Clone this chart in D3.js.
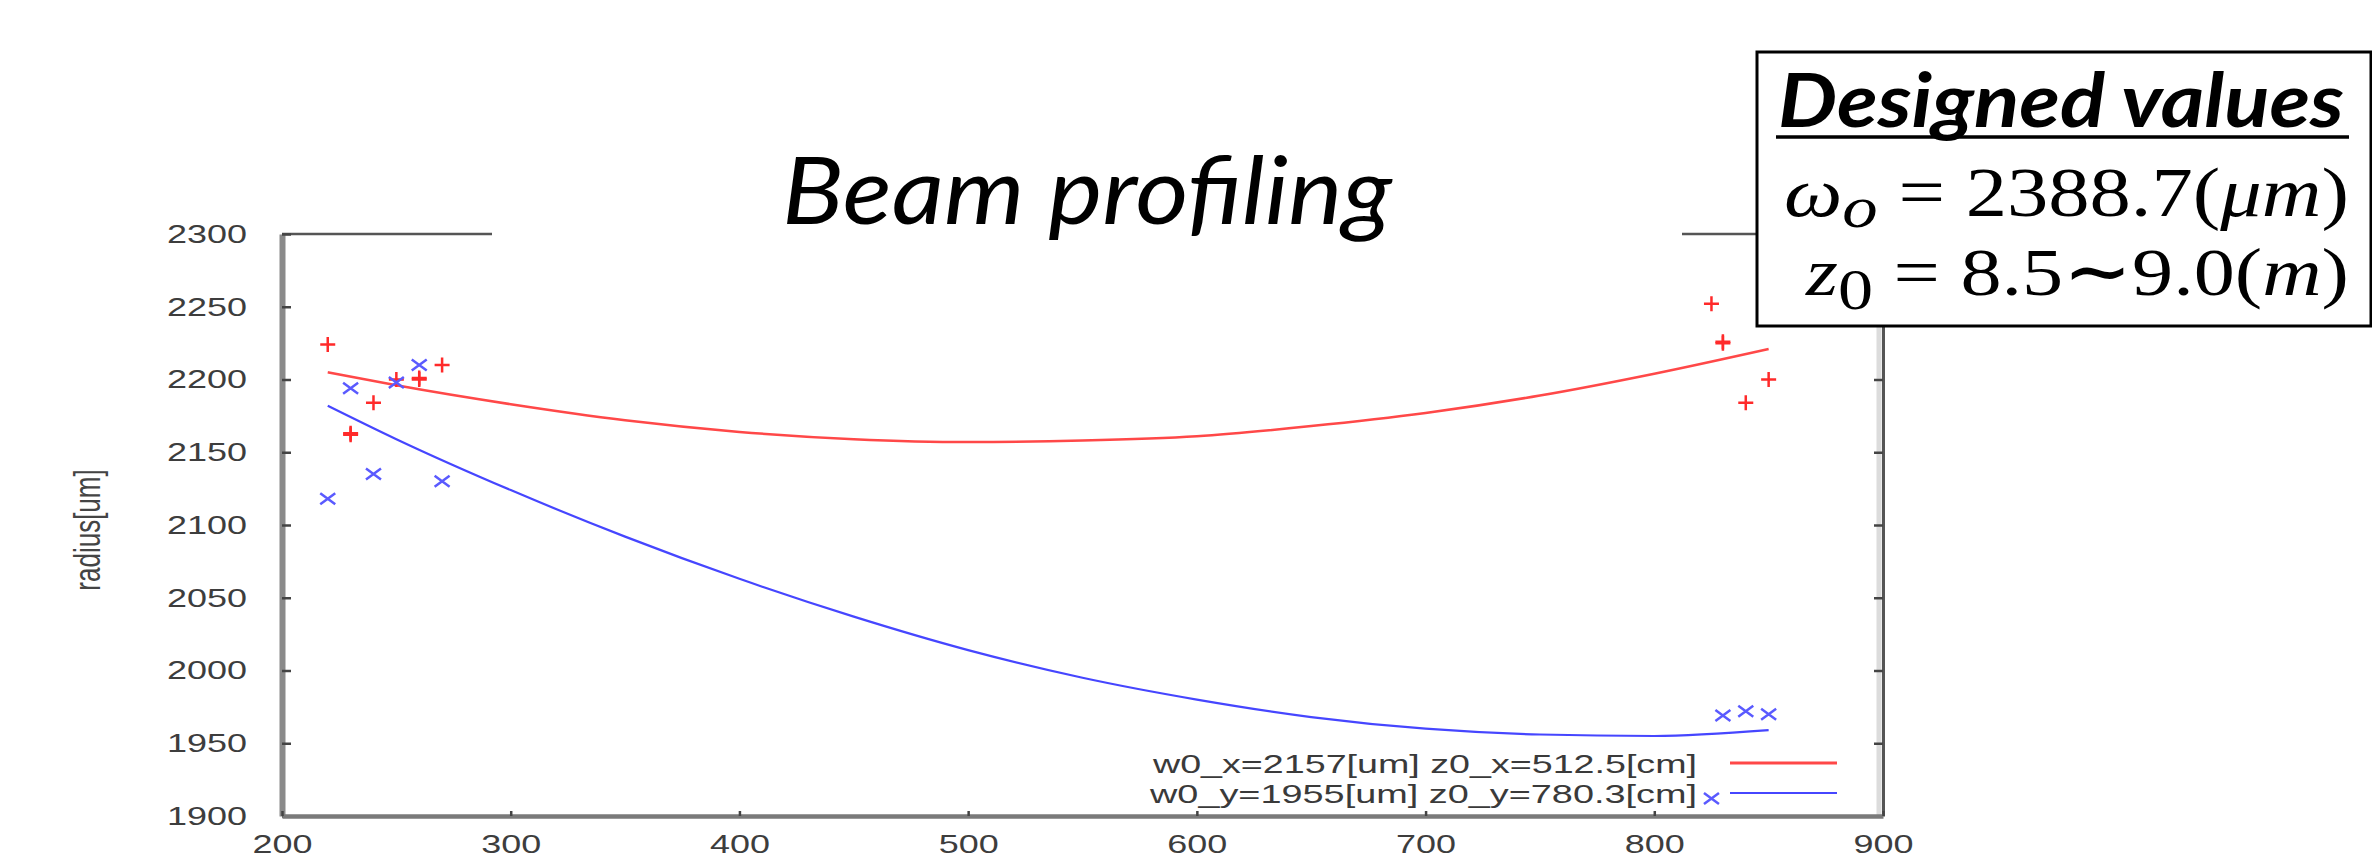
<!DOCTYPE html>
<html>
<head>
<meta charset="utf-8">
<script src="https://cdn.jsdelivr.net/npm/d3@7"></script>
<style>
  html, body { margin: 0; padding: 0; background: #fff; }
  svg { display: block; }
</style>
</head>
<body>
<svg id="chart"></svg>
<script>
const width = 2372;
const height = 864;

// measured points (z in cm, radius in um)
const redZ = [220, 230, 230, 240, 250, 260, 260, 270, 825, 830, 830, 840, 850];
const redR = [2224, 2162, 2163, 2184, 2200, 2200, 2201, 2210, 2252, 2226, 2225, 2184, 2200];
const blueZ = [220, 230, 240, 250, 260, 270, 825, 830, 840, 850];
const blueR = [2118, 2194, 2135, 2198, 2210, 2130, 1912, 1969, 1972, 1970];

// fitted curves
const fitZ = [220, 250, 300, 350, 400, 450, 500, 550, 600, 650, 700, 750, 800, 850];
const redFit = [2205, 2196, 2183, 2172, 2164, 2159, 2157, 2158, 2161, 2168, 2177, 2189, 2204, 2221];
const blueFit = [2182, 2159, 2124, 2092, 2063, 2037, 2014, 1995, 1980, 1968, 1960, 1956, 1955, 1959];

const xTicks = [200, 300, 400, 500, 600, 700, 800, 900];
const yTicks = [1900, 1950, 2000, 2050, 2100, 2150, 2200, 2250, 2300];

const legendLabels = ["w0_x=2157[um] z0_x=512.5[cm]", "w0_y=1955[um] z0_y=780.3[cm]"];

const svg = d3.select("#chart").attr("width", width).attr("height", height);

const x = d3.scaleLinear().domain([200, 900]).range([282, 1883]);
const y = d3.scaleLinear().domain([1900, 2300]).range([816, 234]);

// frame: top and right
svg.append("line")
  .attr("x1", x(200)).attr("x2", x(900)).attr("y1", y(2300)).attr("y2", y(2300))
  .attr("stroke", "#555").attr("stroke-width", 2.7);

// soft shade left of the right border
svg.append("line")
  .attr("x1", x(900) - 4).attr("x2", x(900) - 4).attr("y1", y(2300)).attr("y2", y(1900))
  .attr("stroke", "#dcdcdc").attr("stroke-width", 5);

const right = svg.append("g")
  .attr("transform", `translate(${x(900)},0)`)
  .call(d3.axisRight(y).tickValues(yTicks).tickSizeInner(-9).tickSizeOuter(0).tickFormat(""));
right.select(".domain").attr("stroke", "#555").attr("stroke-width", 3);
right.selectAll(".tick line").attr("stroke", "#444").attr("stroke-width", 2.5);

// left axis
const left = svg.append("g")
  .attr("transform", `translate(${x(200)},0)`)
  .call(d3.axisLeft(y).tickValues(yTicks).tickFormat(d3.format("d"))
    .tickSizeInner(-9).tickSizeOuter(0).tickPadding(35));
left.select(".domain").attr("stroke", "#8a8a8a").attr("stroke-width", 6);
left.selectAll(".tick line").attr("stroke", "#444").attr("stroke-width", 2.5);
left.selectAll(".tick text")
  .attr("font-family", "Liberation Sans, Arial, sans-serif")
  .attr("font-size", 26)
  .attr("fill", "#3d3d3d")
  .attr("textLength", 80)
  .attr("lengthAdjust", "spacingAndGlyphs");

// bottom axis
const bottom = svg.append("g")
  .attr("transform", `translate(0,${y(1900)})`)
  .call(d3.axisBottom(x).tickValues(xTicks).tickFormat(d3.format("d"))
    .tickSizeInner(-5).tickSizeOuter(0).tickPadding(19));
bottom.select(".domain").attr("stroke", "#7a7a7a").attr("stroke-width", 4.5);
bottom.selectAll(".tick line").attr("stroke", "#444").attr("stroke-width", 2.5);
bottom.selectAll(".tick text")
  .attr("font-family", "Liberation Sans, Arial, sans-serif")
  .attr("font-size", 26)
  .attr("fill", "#3d3d3d")
  .attr("textLength", 60)
  .attr("lengthAdjust", "spacingAndGlyphs");

// y axis title (glyphs stretched like the rest of the plot)
svg.append("text")
  .attr("transform", "translate(100,530) scale(1.4,1) rotate(-90)")
  .attr("text-anchor", "middle")
  .attr("font-family", "Liberation Sans, Arial, sans-serif")
  .attr("font-size", 26)
  .attr("fill", "#444")
  .text("radius[um]");

// fitted curves
const line = d3.line().x(d => x(d[0])).y(d => y(d[1])).curve(d3.curveMonotoneX);
svg.append("path")
  .attr("d", line(fitZ.map((z, i) => [z, redFit[i]])))
  .attr("fill", "none").attr("stroke", "#ff4848").attr("stroke-width", 2.5);
svg.append("path")
  .attr("d", line(fitZ.map((z, i) => [z, blueFit[i]])))
  .attr("fill", "none").attr("stroke", "#4646ff").attr("stroke-width", 2.2);

// markers
const plus = "M-7.5,0H7.5M0,-7.5V7.5";
const cross = "M-7.5,-5.5L7.5,5.5M-7.5,5.5L7.5,-5.5";

svg.append("g").selectAll("path")
  .data(redZ.map((z, i) => [z, redR[i]]))
  .join("path")
  .attr("transform", d => `translate(${x(d[0])},${y(d[1])})`)
  .attr("d", plus)
  .attr("stroke", "#ff2a2a").attr("stroke-width", 2.5).attr("fill", "none");

svg.append("g").selectAll("path")
  .data(blueZ.map((z, i) => [z, blueR[i]]))
  .join("path")
  .attr("transform", d => `translate(${x(d[0])},${y(d[1])})`)
  .attr("d", cross)
  .attr("stroke", "#5a5aff").attr("stroke-width", 2.5).attr("fill", "none");

// legend
const legendColors = ["#ff4848", "#4646ff"];
const legendY = [764, 794];
const legendLen = [544, 547];
const legendX = [1153, 1150];
legendLabels.forEach((label, i) => {
  svg.append("text")
    .attr("x", legendX[i]).attr("y", legendY[i])
    .attr("dominant-baseline", "central")
    .attr("font-family", "Liberation Sans, Arial, sans-serif")
    .attr("font-size", 25)
    .attr("fill", "#3a3a3a")
    .attr("textLength", legendLen[i])
    .attr("lengthAdjust", "spacingAndGlyphs")
    .text(label);
  svg.append("line")
    .attr("x1", 1730).attr("x2", 1837).attr("y1", legendY[i] - 1).attr("y2", legendY[i] - 1)
    .attr("stroke", legendColors[i]).attr("stroke-width", i === 0 ? 3 : 2.2);
});

// title on white backing
svg.append("rect")
  .attr("x", 492).attr("y", 140).attr("width", 1190).attr("height", 120)
  .attr("fill", "#fff");
svg.append("text")
  .attr("x", 1087).attr("y", 224)
  .attr("text-anchor", "middle")
  .attr("font-family", "Lato, 'Open Sans', sans-serif")
  .attr("font-style", "italic")
  .attr("font-size", 94)
  .attr("fill", "#000")
  .attr("textLength", 610)
  .attr("lengthAdjust", "spacingAndGlyphs")
  .text("Beam profiling");

// designed values box
const box = svg.append("g");
box.append("rect")
  .attr("x", 1757).attr("y", 52).attr("width", 614).attr("height", 274)
  .attr("fill", "#fff").attr("stroke", "#000").attr("stroke-width", 3);

box.append("text")
  .attr("x", 1778).attr("y", 127)
  .attr("font-family", "Lato, 'Open Sans', sans-serif")
  .attr("font-style", "italic").attr("font-weight", "bold")
  .attr("font-size", 75)
  .attr("textLength", 566)
  .attr("lengthAdjust", "spacingAndGlyphs")
  .text("Designed values");
box.append("line")
  .attr("x1", 1776).attr("x2", 2349).attr("y1", 137).attr("y2", 137)
  .attr("stroke", "#000").attr("stroke-width", 3.5);

const math1 = box.append("text")
  .attr("x", 1784).attr("y", 216)
  .attr("font-family", "'Liberation Serif', 'DejaVu Serif', serif")
  .attr("font-size", 70)
  .attr("textLength", 565)
  .attr("lengthAdjust", "spacingAndGlyphs");
math1.append("tspan").attr("font-style", "italic").text("ω");
math1.append("tspan").attr("font-style", "italic").attr("font-size", 60).attr("dy", 11).text("o");
math1.append("tspan").attr("dy", -11).text(" = 2388.7(");
math1.append("tspan").attr("font-style", "italic").text("μm");
math1.append("tspan").text(")");

const math2 = box.append("text")
  .attr("x", 1806).attr("y", 295)
  .attr("font-family", "'Liberation Serif', 'DejaVu Serif', serif")
  .attr("font-size", 68)
  .attr("textLength", 543)
  .attr("lengthAdjust", "spacingAndGlyphs");
math2.append("tspan").attr("font-style", "italic").text("z");
math2.append("tspan").attr("font-size", 58).attr("dy", 14).text("0");
math2.append("tspan").attr("dy", -14).text(" = 8.5");
math2.append("tspan").attr("font-weight", "bold").text("∼");
math2.append("tspan").text("9.0(");
math2.append("tspan").attr("font-style", "italic").text("m");
math2.append("tspan").text(")");
</script>
</body>
</html>
